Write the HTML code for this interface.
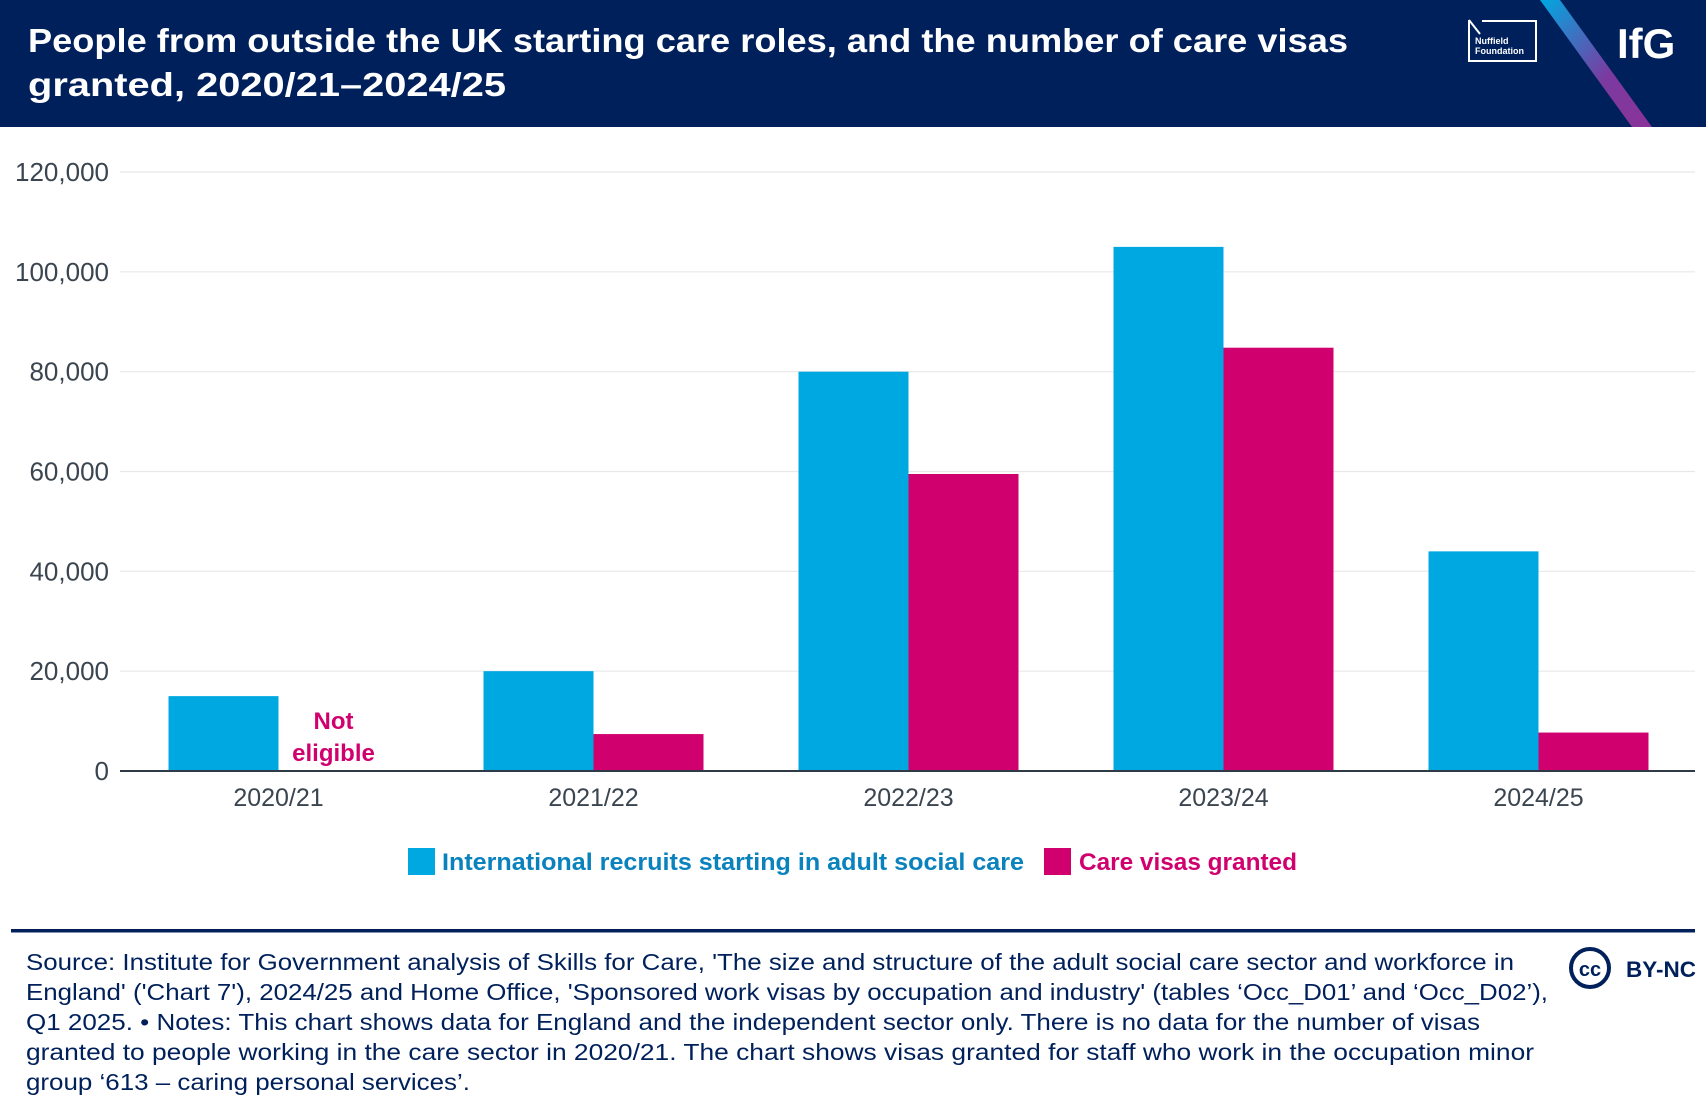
<!DOCTYPE html>
<html><head><meta charset="utf-8"><style>
body{margin:0;background:#fff}
svg{display:block;font-family:"Liberation Sans",sans-serif}
</style></head><body>
<svg id="chart" width="1706" height="1112" viewBox="0 0 1706 1112">
<rect x="0" y="0" width="1706" height="127" fill="#00205b"/>
<defs><linearGradient id="g" x1="0" y1="0" x2="1" y2="1"><stop offset="0" stop-color="#00a8e1"/><stop offset="0.6" stop-color="#7b3aa0"/><stop offset="1" stop-color="#8a3398"/></linearGradient></defs>
<polygon points="1540,0 1560,0 1652,127 1632,127" fill="url(#g)"/>
<text x="28" y="52" fill="#fff" font-size="33" font-weight="bold" textLength="1320" lengthAdjust="spacingAndGlyphs">People from outside the UK starting care roles, and the number of care visas</text>
<text x="28" y="96" fill="#fff" font-size="33" font-weight="bold" textLength="478" lengthAdjust="spacingAndGlyphs">granted, 2020/21–2024/25</text>
<g>
<path d="M1469,20 L1469,61 L1536,61 L1536,21 L1482,21" fill="none" stroke="#fff" stroke-width="2"/>
<path d="M1469,20 L1480,34" stroke="#fff" stroke-width="2"/>
<text x="1475" y="44" fill="#fff" font-size="9" font-weight="bold">Nuffield</text>
<text x="1475" y="54" fill="#fff" font-size="9" font-weight="bold">Foundation</text>
</g>
<text x="1617" y="58" fill="#fff" font-size="42" font-weight="bold">IfG</text>
<g id="grid"></g>
<g id="bars"></g>
<g id="axes"></g>
<g>
<rect x="408" y="848" width="27" height="27" fill="#00a8e1"/>
<text x="442" y="870" fill="#0a82bd" font-size="24" font-weight="bold" textLength="582" lengthAdjust="spacingAndGlyphs">International recruits starting in adult social care</text>
<rect x="1044" y="848" width="27" height="27" fill="#d1006f"/>
<text x="1079" y="870" fill="#d1006f" font-size="24" font-weight="bold" textLength="218" lengthAdjust="spacingAndGlyphs">Care visas granted</text>
</g>
<rect x="11" y="929" width="1684" height="3.5" fill="#00205b"/>
<g fill="#00205b" font-size="23">
<text x="26" y="970" textLength="1488" lengthAdjust="spacingAndGlyphs">Source: Institute for Government analysis of Skills for Care, 'The size and structure of the adult social care sector and workforce in</text>
<text x="26" y="1000" textLength="1522" lengthAdjust="spacingAndGlyphs">England' ('Chart 7'), 2024/25 and Home Office, 'Sponsored work visas by occupation and industry' (tables ‘Occ_D01’ and ‘Occ_D02’),</text>
<text x="26" y="1030" textLength="1454" lengthAdjust="spacingAndGlyphs">Q1 2025. • Notes: This chart shows data for England and the independent sector only. There is no data for the number of visas</text>
<text x="26" y="1060" textLength="1508" lengthAdjust="spacingAndGlyphs">granted to people working in the care sector in 2020/21. The chart shows visas granted for staff who work in the occupation minor</text>
<text x="26" y="1090" textLength="444" lengthAdjust="spacingAndGlyphs">group ‘613 – caring personal services’.</text>
</g>
<g>
<circle cx="1590" cy="968" r="19" fill="none" stroke="#00205b" stroke-width="4"/>
<text x="1590" y="976" fill="#00205b" font-size="20" font-weight="bold" text-anchor="middle">cc</text>
<text x="1626" y="977" fill="#00205b" font-size="22" font-weight="bold" textLength="70" lengthAdjust="spacingAndGlyphs">BY-NC</text>
</g>
</svg>
<script>
const categories = ["2020/21","2021/22","2022/23","2023/24","2024/25"];
const recruits = [15000, 20000, 80000, 105000, 44000];
const visas = [null, 7400, 59500, 84800, 7700];
const yTicks = [0, 20000, 40000, 60000, 80000, 100000, 120000];

const NS = "http://www.w3.org/2000/svg";
const x0 = 120, x1 = 1695, yBase = 771, yTop = 172, yMax = 120000;
const step = (x1 - x0) / categories.length;
const barW = 110;
function yScale(v){ return yBase - (v / yMax) * (yBase - yTop); }
function xCenter(i){ return x0 + step * (i + 0.5) + 1; }
function mk(tag, attrs, parent){ const e = document.createElementNS(NS, tag); for (const k in attrs) e.setAttribute(k, attrs[k]); parent.appendChild(e); return e; }

const grid = document.getElementById('grid'), bars = document.getElementById('bars'), axes = document.getElementById('axes');
yTicks.forEach(t => {
  const y = yScale(t);
  if (t > 0) {
    const l = mk('line', {x1: x0, x2: x1, y1: y, y2: y, stroke: '#e8e8e8', 'stroke-width': 1.2}, grid);
    
    
  }
  const tx = mk('text', {x: 109, y: y + 9, 'text-anchor': 'end', 'font-size': 26, fill: '#3a4550'}, axes);
  tx.textContent = t.toLocaleString('en-GB');
  
  
});
categories.forEach((c, i) => {
  const cx = xCenter(i);
  const b = mk('rect', {x: cx - barW, y: yScale(recruits[i]), width: barW, height: yBase - yScale(recruits[i]), fill: '#00a8e1'}, bars);
  
  
  if (visas[i] != null) {
    const p = mk('rect', {x: cx, y: yScale(visas[i]), width: barW, height: yBase - yScale(visas[i]), fill: '#d1006f'}, bars);
    
    
  } else {
    const n1 = mk('text', {x: cx + barW/2, y: 729, 'text-anchor': 'middle', 'font-size': 24, 'font-weight': 'bold', fill: '#d1006f'}, bars);
    n1.textContent = 'Not';
    
    
    const n2 = mk('text', {x: cx + barW/2, y: 761, 'text-anchor': 'middle', 'font-size': 24, 'font-weight': 'bold', fill: '#d1006f'}, bars);
    n2.textContent = 'eligible';
    
    
  }
  const tx = mk('text', {x: cx, y: 806, 'text-anchor': 'middle', 'font-size': 25, fill: '#3a4550'}, axes);
  tx.textContent = c;
  
  
});
const ax = mk('line', {x1: x0, x2: x1, y1: yBase, y2: yBase, stroke: '#2e3a45', 'stroke-width': 2}, axes);


</script>
</body></html>
